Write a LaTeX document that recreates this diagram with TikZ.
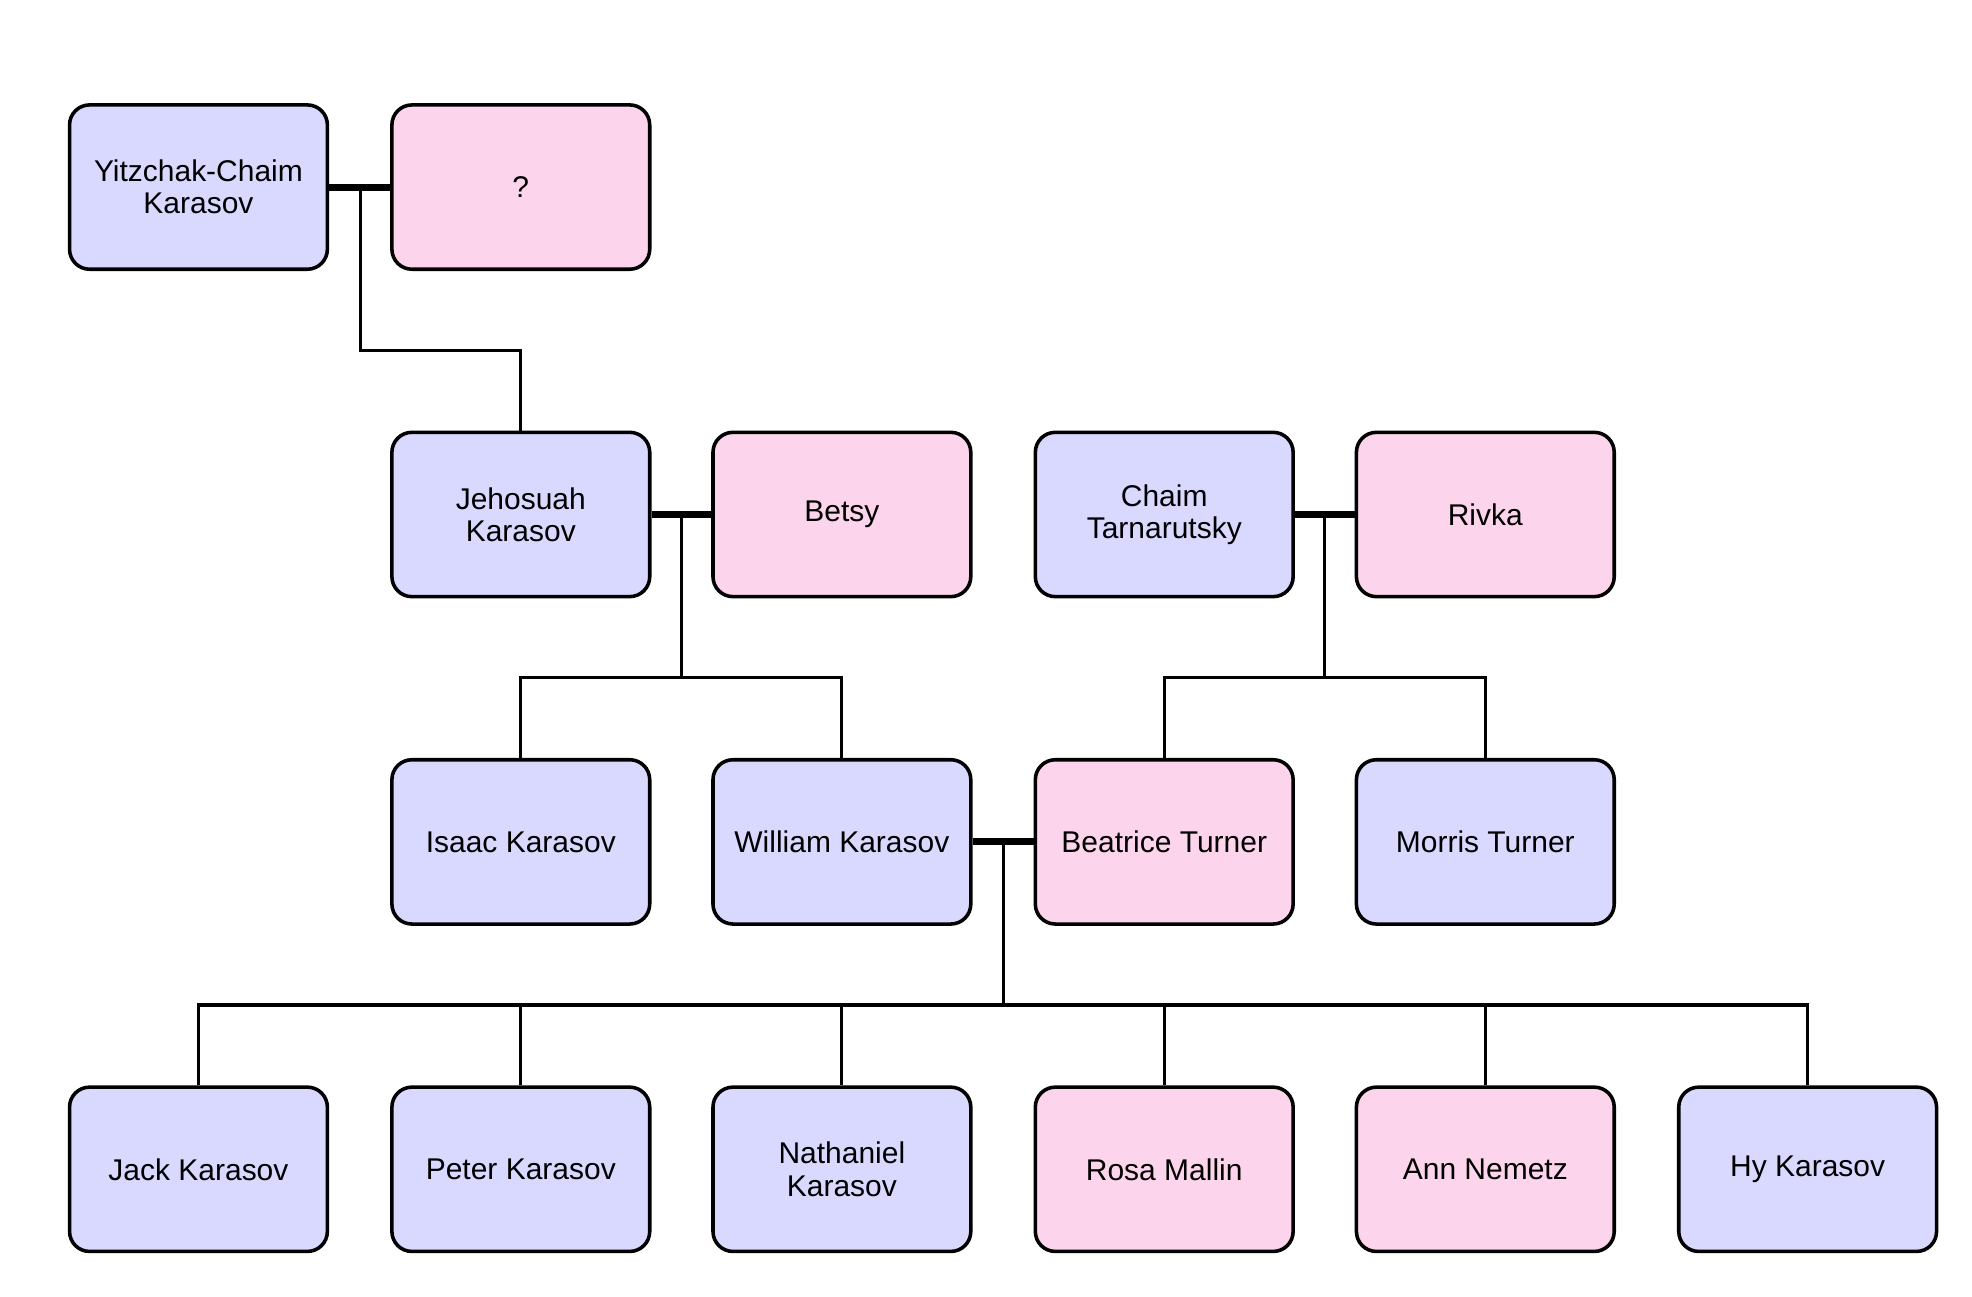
\documentclass[tikz,border=0pt]{standalone}
\usepackage{fontspec}
\setmainfont{Liberation Sans}
\begin{document}
\begin{tikzpicture}[x=0.02cm,y=-0.02cm,
 p/.style={draw=black,line width=1.6pt,rounded corners=9pt,minimum width=4.08cm,minimum height=2.6cm,align=center,font=\fontsize{13.5pt}{14.5pt}\selectfont,inner sep=2pt},
 m/.style={p,fill=blue!15!white},
 f/.style={p,fill=magenta!17!white},
 cp/.style={line width=3.2pt},
 ln/.style={line width=1.4pt}]
\useasboundingbox (0,0) rectangle (1560,1026);
\node[m] (yc) at (157,148) {Yitzchak-Chaim\\Karasov};
\node[f] (q) at (412,148) {?};
\node[m] (je) at (412,407) {Jehosuah\\Karasov};
\node[f] (be) at (666,407) {Betsy};
\node[m] (ch) at (921,407) {Chaim\\Tarnarutsky};
\node[f] (ri) at (1175,407) {Rivka};
\node[m] (is) at (412,666) {Isaac Karasov};
\node[m] (wi) at (666,666) {William Karasov};
\node[f] (bt) at (921,666) {Beatrice Turner};
\node[m] (mo) at (1175,666) {Morris Turner};
\node[m] (ja) at (157,925) {Jack Karasov};
\node[m] (pe) at (412,925) {Peter Karasov};
\node[m] (na) at (666,925) {Nathaniel\\Karasov};
\node[f] (ro) at (921,925) {Rosa Mallin};
\node[f] (an) at (1175,925) {Ann Nemetz};
\node[m] (hy) at (1430,925) {Hy Karasov};
\coordinate (c1) at (285,148);
\coordinate (c2) at (539,407);
\coordinate (c3) at (1048,407);
\coordinate (c4) at (794,666);
\draw[cp] (yc.east) -- (q.west);
\draw[cp] (je.east) -- (be.west);
\draw[cp] (ch.east) -- (ri.west);
\draw[cp] (wi.east) -- (bt.west);
\draw[ln] (c1) |- (412,277) -- (je.north);
\draw[ln] (c2) -- (539,536);
\draw[ln] (is.north) |- (666,536) -- (wi.north);
\draw[ln] (c3) -- (1048,536);
\draw[ln] (bt.north) |- (1175,536) -- (mo.north);
\draw[ln] (c4) -- (794,795);
\draw[ln] (ja.north) |- (1430,795) -- (hy.north);
\foreach \n/\x in {pe/412,na/666,ro/921,an/1175}{\draw[ln] (\n.north) -- (\x,795);}
\end{tikzpicture}
\end{document}
